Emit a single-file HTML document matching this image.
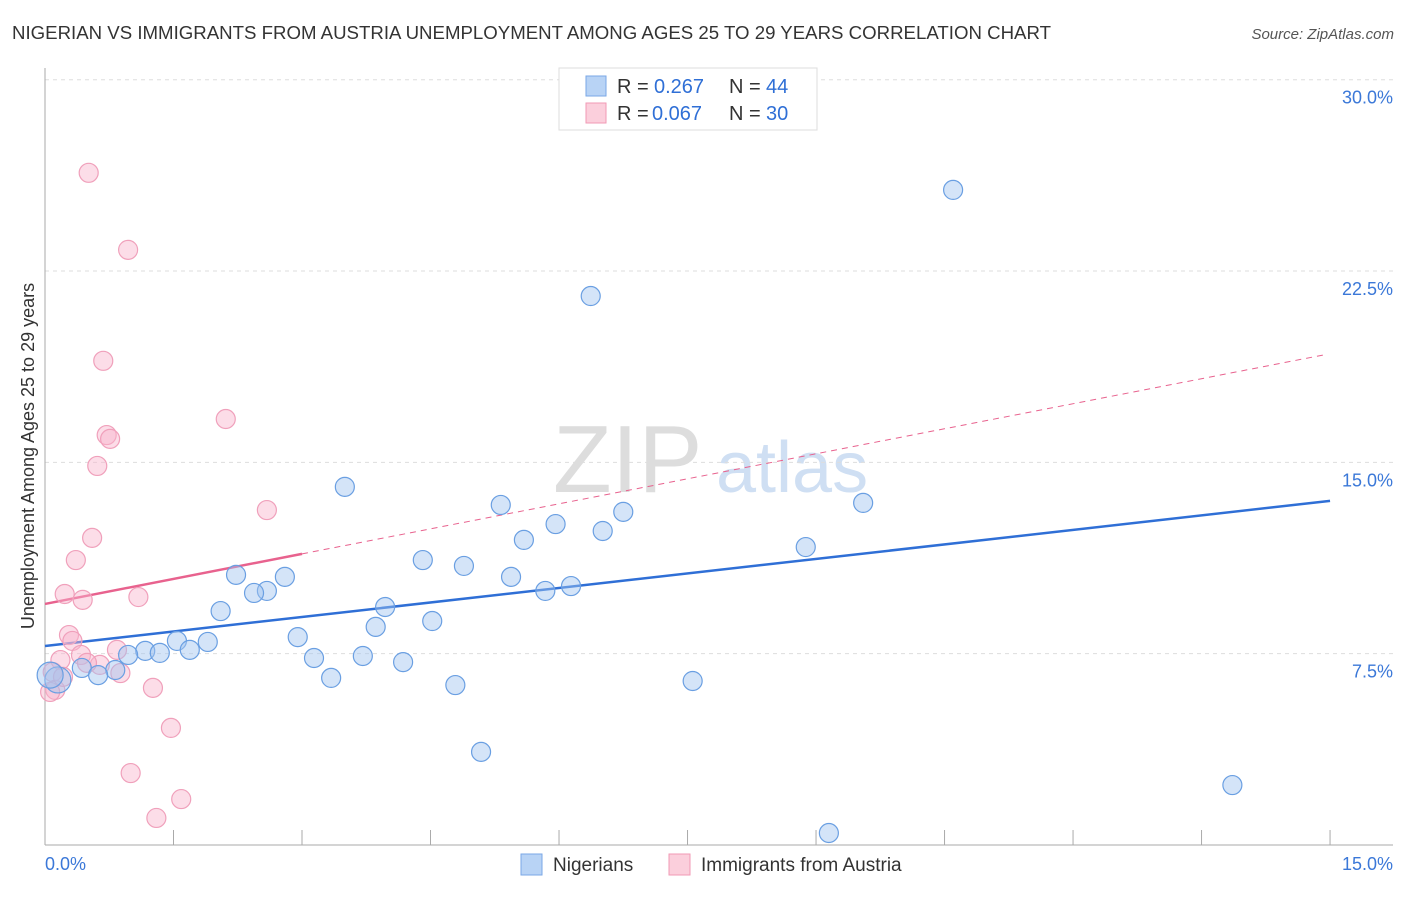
<!DOCTYPE html>
<html><head><meta charset="utf-8"><style>
body{margin:0;background:#fff;font-family:"Liberation Sans",sans-serif}
svg text{font-family:"Liberation Sans",sans-serif}
</style></head><body>
<svg id="chart" width="1406" height="892">
<text x="12" y="39" font-size="18" fill="#333" textLength="1039" lengthAdjust="spacingAndGlyphs">NIGERIAN VS IMMIGRANTS FROM AUSTRIA UNEMPLOYMENT AMONG AGES 25 TO 29 YEARS CORRELATION CHART</text>
<text x="1394" y="39" font-size="15" fill="#555" text-anchor="end" font-style="italic">Source: ZipAtlas.com</text>
<g>
<text x="553" y="492" font-size="96" fill="#ddd" font-family="Liberation Serif">ZIP</text>
<text x="716" y="492" font-size="72" fill="#cfdff3">atlas</text>
</g>
<g id="grid"></g><g id="axes"></g><g id="trend"></g><g id="points"></g>
<text transform="translate(34,456) rotate(-90)" font-size="18" fill="#333" text-anchor="middle">Unemployment Among Ages 25 to 29 years</text>
<g>
<rect x="559" y="68" width="258" height="62" fill="#fff" stroke="#ddd"/>
<rect x="586" y="76" width="20" height="20" fill="#b8d3f5" stroke="#7aa7e6"/>
<rect x="586" y="103" width="20" height="20" fill="#fbcfdc" stroke="#f29ab5"/>
<text x="617" y="93" font-size="20" fill="#333">R = </text><text x="654" y="93" font-size="20" fill="#2f6fd6">0.267</text>
<text x="729" y="93" font-size="20" fill="#333">N = </text><text x="766" y="93" font-size="20" fill="#2f6fd6">44</text>
<text x="617" y="120" font-size="20" fill="#333">R = </text><text x="652" y="120" font-size="20" fill="#2f6fd6">0.067</text>
<text x="729" y="120" font-size="20" fill="#333">N = </text><text x="766" y="120" font-size="20" fill="#2f6fd6">30</text>
</g>
<g>
<rect x="521" y="854" width="21" height="21" fill="#b8d3f5" stroke="#7aa7e6"/>
<text x="553" y="871" font-size="19" fill="#333">Nigerians</text>
<rect x="669" y="854" width="21" height="21" fill="#fbcfdc" stroke="#f29ab5"/>
<text x="701" y="871" font-size="19" fill="#333">Immigrants from Austria</text>
</g>
</svg>
<script>
const yTicks=[7.5,15,22.5,30];
const yTickLabels=["7.5%","15.0%","22.5%","30.0%"];
const nigX=[10.60,6.37,3.50,5.32,9.55,6.75,5.96,6.51,5.59,8.88,4.41,4.89,2.23,5.44,2.80,2.59,2.44,5.84,6.14,3.97,2.05,4.52,3.86,2.95,1.54,1.90,1.17,1.34,0.97,1.69,3.14,3.71,4.18,0.82,0.43,0.62,0.15,3.34,4.79,7.56,5.09,13.86,9.15,0.06];
const nigY=[25.68,21.52,14.04,13.33,13.41,13.06,12.58,12.31,11.96,11.68,11.17,10.94,10.59,10.51,10.51,9.96,9.88,9.96,10.15,9.33,9.17,8.78,8.55,8.15,8.00,7.96,7.61,7.53,7.45,7.65,7.33,7.41,7.17,6.86,6.94,6.66,6.47,6.55,6.27,6.43,3.65,2.35,0.47,6.66];
const ausX=[0.51,0.97,0.68,2.11,0.72,0.76,0.61,2.59,0.55,0.36,0.23,0.44,1.09,0.28,0.32,0.42,0.84,0.64,0.49,0.18,0.09,0.88,1.26,0.12,0.06,1.47,1.00,1.59,1.30,0.21];
const ausY=[26.35,23.33,18.98,16.70,16.07,15.92,14.86,13.13,12.04,11.17,9.84,9.61,9.72,8.23,8.00,7.45,7.65,7.06,7.14,7.25,6.78,6.74,6.16,6.08,6.00,4.59,2.82,1.80,1.06,6.59];
const nigTrend=[7.80,13.49];
const ausTrend=[9.45,0.654];
const NS="http://www.w3.org/2000/svg";
const sx=v=>45+v*85.67, sy=v=>845-v*25.51;
function mk(t,a,p){const e=document.createElementNS(NS,t);for(const k in a)e.setAttribute(k,a[k]);p.appendChild(e);return e;}
const grid=document.getElementById('grid'),axes=document.getElementById('axes'),trend=document.getElementById('trend'),pts=document.getElementById('points');
yTicks.forEach((v,i)=>{
 const l=mk('line',{x1:45,x2:1393,y1:sy(v),y2:sy(v),stroke:'#ddd','stroke-dasharray':'4,4'},grid);
 
 
 const t=mk('text',{x:1393,y:sy(v)+24,'font-size':18,fill:'#3b78d8','text-anchor':'end'},grid);
 t.textContent=yTickLabels[i];
 
 
});
mk('line',{x1:45,x2:45,y1:68,y2:845,stroke:'#aaa'},axes);
mk('line',{x1:45,x2:1393,y1:845,y2:845,stroke:'#aaa'},axes);
for(let i=1;i<=10;i++){const x=sx(i*1.5);mk('line',{x1:x,x2:x,y1:830,y2:845,stroke:'#aaa'},axes);}
const x0=mk('text',{x:45,y:870,'font-size':18,fill:'#3b78d8'},axes);x0.textContent='0.0%';


const x1=mk('text',{x:1393,y:870,'font-size':18,fill:'#3b78d8','text-anchor':'end'},axes);x1.textContent='15.0%';


const bt=mk('line',{x1:sx(0),y1:sy(nigTrend[0]),x2:sx(15),y2:sy(nigTrend[1]),stroke:'#2f6fd6','stroke-width':2.5},trend);


const pa=x=>ausTrend[0]+ausTrend[1]*x;
const ps=mk('line',{x1:sx(0),y1:sy(pa(0)),x2:sx(3),y2:sy(pa(3)),stroke:'#e8628e','stroke-width':2.5},trend);


const pd=mk('line',{x1:sx(3),y1:sy(pa(3)),x2:sx(14.94),y2:sy(pa(14.94)),stroke:'#e8628e','stroke-width':1,'stroke-dasharray':'6,5'},trend);


ausX.forEach((x,i)=>{
 const c=mk('circle',{cx:sx(x),cy:sy(ausY[i]),r:9.5,fill:'rgba(248,180,204,0.45)',stroke:'#f0a0bb','stroke-width':1.2},pts);
 
 
});
nigX.forEach((x,i)=>{
 const c=mk('circle',{cx:sx(x),cy:sy(nigY[i]),r:(x<0.2?13:9.5),fill:'rgba(160,195,240,0.45)',stroke:'#6a9fe2','stroke-width':1.2},pts);
 
 
});
</script>
</body></html>
